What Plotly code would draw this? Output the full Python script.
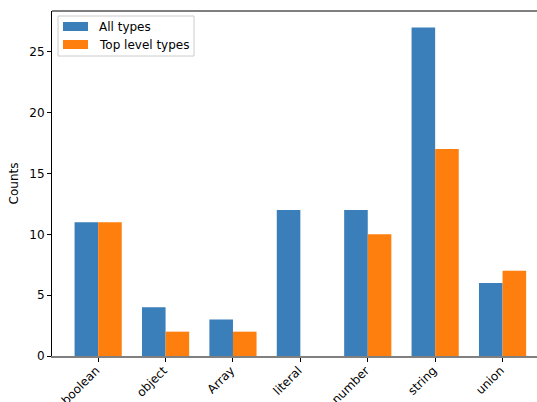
import plotly.graph_objects as go

categories = ["boolean", "object", "Array", "literal", "number", "string", "union"]
all_types = [11, 4, 3, 12, 12, 27, 6]
top_level_types = [11, 2, 2, 0, 10, 17, 7]
series_names = ["All types", "Top level types"]

pos = list(range(len(categories)))
blue = "#3a7fb9"
orange = "#ff7f0e"
font = dict(family="DejaVu Sans", size=12, color="black")

W, H = 537, 402
ML, MR, MT, MB = 52, 0, 11, 46
PW, PH = W - ML - MR, H - MT - MB


def px(x):
    return (x - ML) / PW


def py(y):
    return (H - MB - y) / PH


fig = go.Figure()
fig.add_trace(go.Bar(x=pos, y=all_types, name=series_names[0], width=0.35, offset=-0.35,
                     marker=dict(color=blue, line=dict(width=0))))
fig.add_trace(go.Bar(x=pos, y=top_level_types, name=series_names[1], width=0.35, offset=0,
                     marker=dict(color=orange, line=dict(width=0))))

shapes = [
    dict(type="line", xref="paper", yref="paper", x0=0, x1=1, y0=1, y1=1,
         line=dict(color="black", width=1)),
    # legend box
    dict(type="rect", xref="paper", yref="paper", x0=px(58), x1=px(194), y0=py(56), y1=py(16),
         line=dict(color="#cccccc", width=1), fillcolor="rgba(255,255,255,0.8)", layer="above"),
    dict(type="rect", xref="paper", yref="paper", x0=px(63), x1=px(88), y0=py(31), y1=py(22),
         line=dict(width=0), fillcolor=blue, layer="above"),
    dict(type="rect", xref="paper", yref="paper", x0=px(63), x1=px(88), y0=py(49), y1=py(40),
         line=dict(width=0), fillcolor=orange, layer="above"),
]
annotations = [
    dict(xref="paper", yref="paper", x=px(97), y=py(26.5), text=series_names[0], showarrow=False,
         xanchor="left", yanchor="middle", font=font),
    dict(xref="paper", yref="paper", x=px(97), y=py(44.5), text=series_names[1], showarrow=False,
         xanchor="left", yanchor="middle", font=font),
]

fig.update_layout(
    width=W, height=H,
    margin=dict(l=ML, r=MR, t=MT, b=MB, autoexpand=False),
    paper_bgcolor="white", plot_bgcolor="white",
    barmode="overlay",
    font=font,
    showlegend=False,
    xaxis=dict(range=[-0.685, 6.511], tickmode="array", tickvals=pos, ticktext=categories,
               tickangle=-45, showgrid=False, zeroline=False, automargin=False,
               showline=True, linecolor="#808080", linewidth=1.5,
               ticks="outside", ticklen=4, tickcolor="black", tickwidth=1,
               ticklabelstandoff=-3, ticklabelshift=-2),
    yaxis=dict(range=[0, 28.35], tickvals=[0, 5, 10, 15, 20, 25], showgrid=False, zeroline=False,
               automargin=False,
               showline=True, linecolor="black", linewidth=1,
               ticks="outside", ticklen=4, tickcolor="black", tickwidth=1,
               title=dict(text="Counts", font=font, standoff=8)),
    shapes=shapes,
    annotations=annotations,
)

fig.write_html("out.html")
